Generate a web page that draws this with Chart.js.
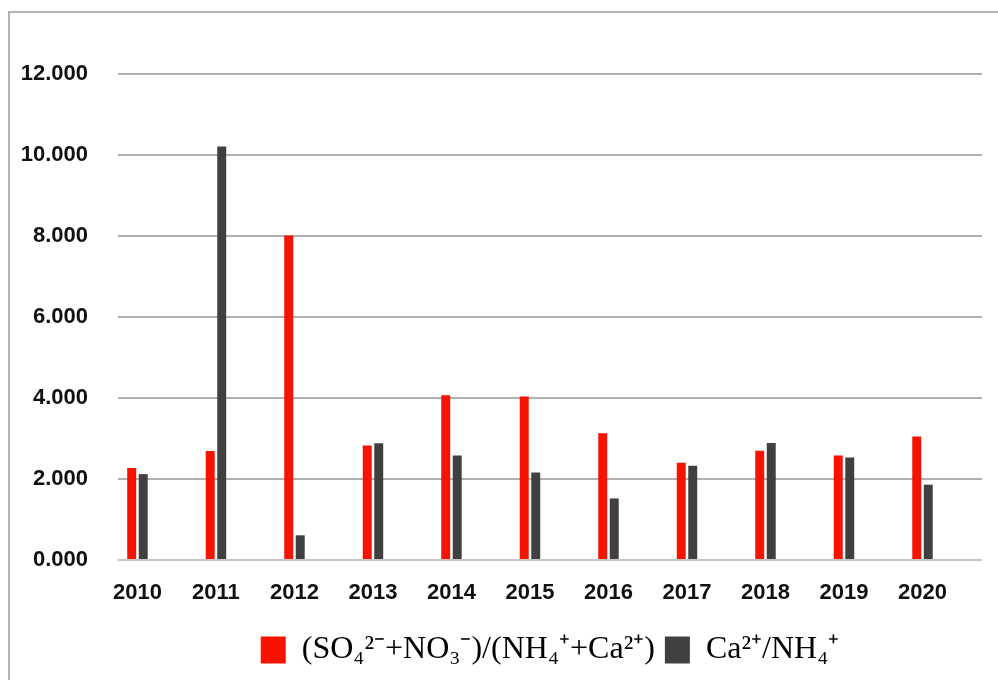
<!DOCTYPE html>
<html>
<head>
<meta charset="utf-8">
<script src="https://cdn.jsdelivr.net/npm/chart.js@4.4.1/dist/chart.umd.min.js"></script>
<style>
  html, body { margin: 0; padding: 0; background: #fff; overflow: hidden; width: 998px; height: 680px; }
  #frame { position: absolute; left: 8px; top: 11px; width: 1200px; height: 1000px;
           border-left: 2px solid #b3b3b3; border-top: 2px solid #b3b3b3; box-sizing: border-box; }
  #c { position: absolute; left: 0; top: 0; }
</style>
</head>
<body>
<div id="frame"></div>
<canvas id="c" width="998" height="680"></canvas>
<script>
const years = ['2010', '2011', '2012', '2013', '2014', '2015', '2016', '2017', '2018', '2019', '2020'];
const anionCationRatio = [2.27, 2.69, 8.01, 2.83, 4.07, 4.04, 3.13, 2.40, 2.70, 2.58, 3.05];
const caNh4Ratio = [2.12, 10.21, 0.61, 2.88, 2.58, 2.16, 1.52, 2.33, 2.89, 2.53, 1.86];
const seriesNames = ['(SO₄²⁻+NO₃⁻)/(NH₄⁺+Ca²⁺)', 'Ca²⁺/NH₄⁺'];
const yTicks = [0, 2, 4, 6, 8, 10, 12];

const toPoints = arr => arr.map((v, i) => ({ x: i, y: v }));

new Chart(document.getElementById('c'), {
  type: 'bar',
  data: {
    datasets: [
      { label: seriesNames[0], data: toPoints(anionCationRatio), backgroundColor: '#F81200', borderWidth: 0,
        categoryPercentage: 0.293, barPercentage: 0.78 },
      { label: seriesNames[1], data: toPoints(caNh4Ratio), backgroundColor: '#404040', borderWidth: 0,
        categoryPercentage: 0.293, barPercentage: 0.78 }
    ]
  },
  options: {
    responsive: false,
    animation: false,
    layout: { padding: { left: 21, right: 16, top: 74, bottom: 4 } },
    plugins: {
      tooltip: { enabled: false },
      legend: {
        position: 'bottom',
        fullSize: false,
        labels: {
          boxWidth: 25,
          boxHeight: 27,
          padding: 10,
          color: '#000',
          font: { family: '"Liberation Serif", "Times New Roman", serif', size: 32 }
        }
      }
    },
    scales: {
      x: {
        type: 'linear',
        min: -0.248,
        max: 10.758,
        offset: false,
        grid: { display: false, drawTicks: false },
        border: { display: false },
        afterBuildTicks: s => { s.ticks = years.map((y, i) => ({ value: i })); },
        afterFit: s => { s.height = 64; },
        ticks: {
          padding: 20,
          color: '#111',
          font: { family: '"Liberation Sans", Arial, sans-serif', size: 22, weight: 'bold' },
          callback: v => years[v]
        }
      },
      y: {
        min: 0,
        max: 12,
        grid: {
          drawTicks: false,
          color: ctx => ctx.tick && ctx.tick.value === 0 ? '#c6c6c6' : '#b0b0b0',
          lineWidth: 2
        },
        border: { display: false },
        afterBuildTicks: s => { s.ticks = yTicks.map(v => ({ value: v })); },
        afterFit: s => { s.width = 97; },
        ticks: {
          padding: 30,
          color: '#111',
          font: { family: '"Liberation Sans", Arial, sans-serif', size: 22, weight: 'bold' },
          callback: v => Number(v).toFixed(3)
        }
      }
    }
  }
});
</script>
</body>
</html>
